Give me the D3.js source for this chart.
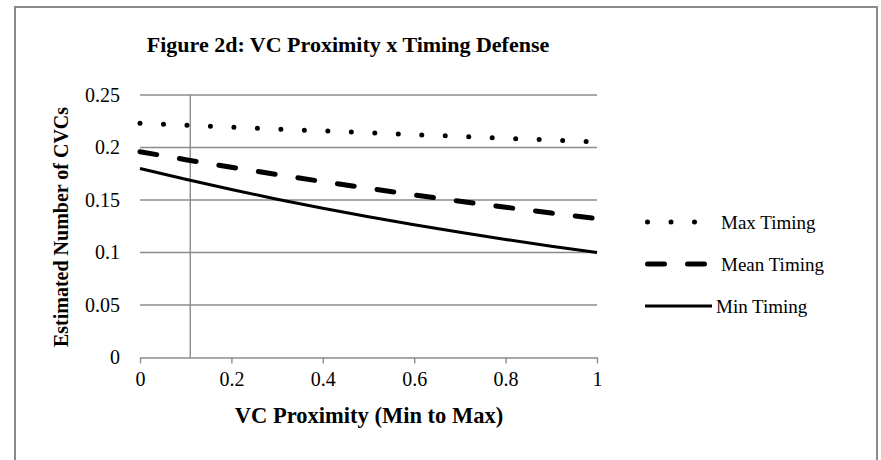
<!DOCTYPE html>
<html>
<head>
<meta charset="utf-8">
<script src="https://cdn.jsdelivr.net/npm/d3@7"></script>
<style>
  body { margin: 0; background: #fff; }
  text { font-family: "Liberation Serif", "Times New Roman", serif; fill: #000; }
</style>
</head>
<body>
<div id="chart"></div>
<script>
// values
let proximity = [0, 0.1, 0.2, 0.3, 0.4, 0.5, 0.6, 0.7, 0.8, 0.9, 1];
let maxTiming  = [0.223, 0.2212, 0.2194, 0.2176, 0.2158, 0.214, 0.2123, 0.2105, 0.2088, 0.2071, 0.2054];
let meanTiming = [0.196, 0.1884, 0.1812, 0.1742, 0.1675, 0.1611, 0.1548, 0.1489, 0.1431, 0.1376, 0.1323];
let minTiming  = [0.180, 0.1697, 0.160, 0.1508, 0.1422, 0.1341, 0.1264, 0.1192, 0.1124, 0.1059, 0.0999];
let seriesNames = ["Max Timing", "Mean Timing", "Min Timing"];
let xTicks = [0, 0.2, 0.4, 0.6, 0.8, 1];
let yTicks = [0, 0.05, 0.1, 0.15, 0.2, 0.25];
let axisCrossX = 0.11;

let W = 881, H = 460;
let margin = {top: 95, left: 140},
    width = 457, height = 262.5;

let svg = d3.select("#chart").append("svg")
    .attr("width", W)
    .attr("height", H);

// outer border of the chart area
svg.append("rect")
    .attr("x", 15).attr("y", 7)
    .attr("width", 862).attr("height", 470)
    .attr("fill", "none")
    .attr("stroke", "#8a8a8a")
    .attr("stroke-width", 2);

let x = d3.scaleLinear().domain([0, 1]).range([0, width]);
let y = d3.scaleLinear().domain([0, 0.25]).range([height, 0]);

let g = svg.append("g")
    .attr("transform", "translate(" + margin.left + "," + margin.top + ")");

// horizontal gridlines
g.selectAll(".grid")
    .data(yTicks.filter(d => d > 0))
  .enter().append("line")
    .attr("x1", 0).attr("x2", width)
    .attr("y1", d => y(d)).attr("y2", d => y(d))
    .attr("stroke", "#8c8c8c")
    .attr("stroke-width", 1.4);

// vertical axis line (crosses at axisCrossX)
g.append("line")
    .attr("x1", x(axisCrossX)).attr("x2", x(axisCrossX))
    .attr("y1", y(0.25)).attr("y2", y(0))
    .attr("stroke", "#8c8c8c")
    .attr("stroke-width", 1.4);

// x axis
let xAxis = g.append("g")
    .attr("transform", "translate(0," + height + ")")
    .call(d3.axisBottom(x).tickValues(xTicks).tickSize(6).tickSizeOuter(0)
      .tickPadding(8).tickFormat(d3.format("")));
xAxis.selectAll("line, path").attr("stroke", "#8c8c8c").attr("stroke-width", 1.4);
xAxis.selectAll("text").style("font-size", "20px").attr("fill", "#000")
    .style("font-family", "'Liberation Serif', serif");

// y axis labels
let yAxis = g.append("g")
    .call(d3.axisLeft(y).tickValues(yTicks).tickSize(0).tickPadding(20)
      .tickFormat(d3.format("")));
yAxis.select(".domain").remove();
yAxis.selectAll("text").style("font-size", "20px").attr("fill", "#000")
    .style("font-family", "'Liberation Serif', serif");

// series
let styles = [
  {width: 5, dash: "0,23.5", cap: "round"},
  {width: 5, dash: "17,23", cap: "round"},
  {width: 3, dash: null, cap: "butt"}
];
let series = [maxTiming, meanTiming, minTiming];

let line = d3.line()
    .x((d, i) => x(proximity[i]))
    .y(d => y(d));

series.forEach(function(vals, k) {
  g.append("path")
      .datum(vals)
      .attr("d", line)
      .attr("fill", "none")
      .attr("stroke", "#000")
      .attr("stroke-width", styles[k].width)
      .attr("stroke-linecap", styles[k].cap)
      .attr("stroke-dasharray", styles[k].dash);
});

// legend
let legendY = [222, 264, 306];
let legend = svg.append("g");
seriesNames.forEach(function(name, k) {
  let x1 = k == 2 ? 645 : 647.5,
      x2 = k == 2 ? 712 : (k == 0 ? 695 : 704.5);
  legend.append("line")
      .attr("x1", x1).attr("x2", x2)
      .attr("y1", legendY[k]).attr("y2", legendY[k])
      .attr("stroke", "#000")
      .attr("stroke-width", styles[k].width)
      .attr("stroke-linecap", styles[k].cap)
      .attr("stroke-dasharray", styles[k].dash);
  legend.append("text")
      .attr("x", k == 2 ? 716 : 721)
      .attr("y", legendY[k])
      .attr("dy", "0.35em")
      .style("font-size", "19px")
      .text(name);
});

// titles
svg.append("text")
    .attr("x", 348).attr("y", 52)
    .attr("text-anchor", "middle")
    .style("font-size", "22px")
    .style("font-weight", "bold")
    .text("Figure 2d: VC Proximity x Timing Defense");

svg.append("text")
    .attr("x", 369).attr("y", 423)
    .attr("text-anchor", "middle")
    .style("font-size", "22.5px")
    .style("font-weight", "bold")
    .text("VC Proximity (Min to Max)");

svg.append("text")
    .attr("transform", "translate(68,227) rotate(-90)")
    .attr("text-anchor", "middle")
    .style("font-size", "20px")
    .style("font-weight", "bold")
    .text("Estimated Number of CVCs");
</script>
</body>
</html>
